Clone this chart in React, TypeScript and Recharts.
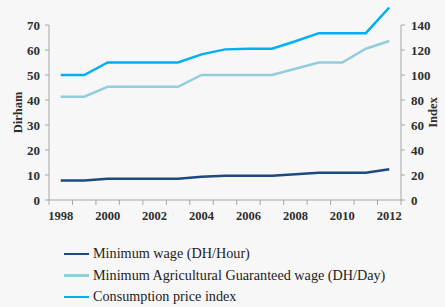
import React from "react";
import {
  LineChart,
  Line,
  XAxis,
  YAxis,
  Legend,
} from "recharts";

// 年（カテゴリ）
const years = [
  "1998", "1999", "2000", "2001", "2002", "2003", "2004", "2005",
  "2006", "2007", "2008", "2009", "2010", "2011", "2012",
];

// 最低賃金 (DH/時間) - 左軸
const minWage = [7.8, 7.8, 8.5, 8.5, 8.5, 8.5, 9.3, 9.7, 9.7, 9.7, 10.3, 10.9, 10.9, 10.9, 12.3];

// 農業最低保証賃金 (DH/日) - 左軸
const agriWage = [41.3, 41.3, 45.3, 45.3, 45.3, 45.3, 50, 50, 50, 50, 52.5, 55, 55, 60.5, 63.6];

// 消費者物価指数 - 右軸
const cpi = [100, 100, 110, 110, 110, 110, 116.5, 120.5, 121, 121, 127, 133.5, 133.5, 133.5, 154];

const leftTicks = [0, 10, 20, 30, 40, 50, 60, 70];
const rightTicks = [0, 20, 40, 60, 80, 100, 120, 140];

const seriesInfo = [
  { key: "minWage", name: "Minimum wage (DH/Hour)", color: "#1c4a7c" },
  { key: "agriWage", name: "Minimum Agricultural Guaranteed wage (DH/Day)", color: "#93cddd" },
  { key: "cpi", name: "Consumption price index", color: "#00b0f0" },
];

const data = years.map((year, i) => ({
  year,
  minWage: minWage[i],
  agriWage: agriWage[i],
  cpi: cpi[i],
}));

const FONT = '"Liberation Serif", "Times New Roman", serif';
const AXIS_COLOR = "#a6a6a6";
const TEXT_COLOR = "#2e2e2e";

// プロット領域
const PLOT_LEFT = 49;
const PLOT_RIGHT = 401;
const HALF_BAND = (PLOT_RIGHT - PLOT_LEFT) / years.length / 2;
const X_TICK_MARGIN = 11;

// X軸の目盛り（カテゴリ境界に目盛り線、偶数年のみラベル）
const YearTick = (props: any) => {
  const { x, y, payload, index } = props;
  const axisY = y - X_TICK_MARGIN;
  const isLast = index === years.length - 1;
  const showLabel = Number(payload.value) % 2 === 0;
  return (
    <g>
      <line x1={x - HALF_BAND} x2={x - HALF_BAND} y1={axisY} y2={axisY + 5} stroke={AXIS_COLOR} />
      {isLast && (
        <line x1={x + HALF_BAND} x2={x + HALF_BAND} y1={axisY} y2={axisY + 5} stroke={AXIS_COLOR} />
      )}
      {showLabel && (
        <text
          x={x}
          y={y}
          dy="0.71em"
          textAnchor="middle"
          fontFamily={FONT}
          fontWeight="bold"
          fontSize={12.5}
          fill={TEXT_COLOR}
        >
          {payload.value}
        </text>
      )}
    </g>
  );
};

// 縦軸タイトル
const AxisTitle = (props: any) => {
  const { viewBox, value, cx } = props;
  const cy = viewBox.y + viewBox.height / 2;
  return (
    <text
      x={cx}
      y={cy}
      transform={`rotate(-90, ${cx}, ${cy})`}
      textAnchor="middle"
      dominantBaseline="central"
      fontFamily={FONT}
      fontWeight="bold"
      fontSize={12.5}
      fill={TEXT_COLOR}
    >
      {value}
    </text>
  );
};

const LegendContent = () => (
  <div style={{ fontFamily: FONT, fontSize: 14.2, color: "#222" }}>
    {seriesInfo.map((s) => (
      <div
        key={s.key}
        style={{ display: "flex", alignItems: "center", height: 21.5, whiteSpace: "nowrap" }}
      >
        <span
          style={{
            display: "inline-block",
            width: 25,
            height: 2.5,
            background: s.color,
            marginRight: 4,
          }}
        />
        <span>{s.name}</span>
      </div>
    ))}
  </div>
);

const App: React.FC = () => {
  return (
    <div
      style={{
        position: "absolute",
        left: 0,
        top: 0,
        width: 445,
        height: 307,
        background: "#f7f7f7",
      }}
    >
      <style>{".recharts-line, .recharts-line-curve, .recharts-line path { clip-path: none !important; }"}</style>
      <LineChart
        width={445}
        height={307}
        data={data}
        margin={{ top: 25, right: 0, bottom: 87, left: 0 }}
      >
        <XAxis
          dataKey="year"
          interval={0}
          padding={{ left: HALF_BAND, right: HALF_BAND }}
          tickLine={false}
          tickSize={0}
          tickMargin={X_TICK_MARGIN}
          axisLine={{ stroke: AXIS_COLOR }}
          tick={<YearTick />}
          height={20}
        />
        <YAxis
          yAxisId="left"
          domain={[0, 70]}
          ticks={leftTicks}
          interval={0}
          width={PLOT_LEFT}
          tickSize={4}
          tickMargin={5}
          axisLine={{ stroke: AXIS_COLOR }}
          tickLine={{ stroke: AXIS_COLOR }}
          tick={{ fontFamily: FONT, fontWeight: "bold", fontSize: 13, fill: TEXT_COLOR }}
          label={<AxisTitle value="Dirham" cx={18} />}
        />
        <YAxis
          yAxisId="right"
          orientation="right"
          domain={[0, 140]}
          allowDataOverflow
          ticks={rightTicks}
          interval={0}
          width={445 - PLOT_RIGHT}
          tickSize={4}
          tickMargin={6}
          axisLine={{ stroke: AXIS_COLOR }}
          tickLine={{ stroke: AXIS_COLOR }}
          tick={{ fontFamily: FONT, fontWeight: "bold", fontSize: 13, fill: TEXT_COLOR, textAnchor: "start" }}
          label={<AxisTitle value="Index" cx={433} />}
        />
        <Legend
          layout="horizontal"
          verticalAlign="middle"
          align="center"
          content={<LegendContent />}
          wrapperStyle={{ position: "absolute", left: 64, top: 243, width: 360 }}
        />
        <Line
          yAxisId="left"
          dataKey="minWage"
          name={seriesInfo[0].name}
          stroke={seriesInfo[0].color}
          strokeWidth={2.5}
          dot={false}
          type="linear"
          isAnimationActive={false}
        />
        <Line
          yAxisId="left"
          dataKey="agriWage"
          name={seriesInfo[1].name}
          stroke={seriesInfo[1].color}
          strokeWidth={2.5}
          dot={false}
          type="linear"
          isAnimationActive={false}
        />
        <Line
          yAxisId="right"
          dataKey="cpi"
          name={seriesInfo[2].name}
          stroke={seriesInfo[2].color}
          strokeWidth={2.5}
          dot={false}
          type="linear"
          isAnimationActive={false}
        />
      </LineChart>
    </div>
  );
};

export default App;
